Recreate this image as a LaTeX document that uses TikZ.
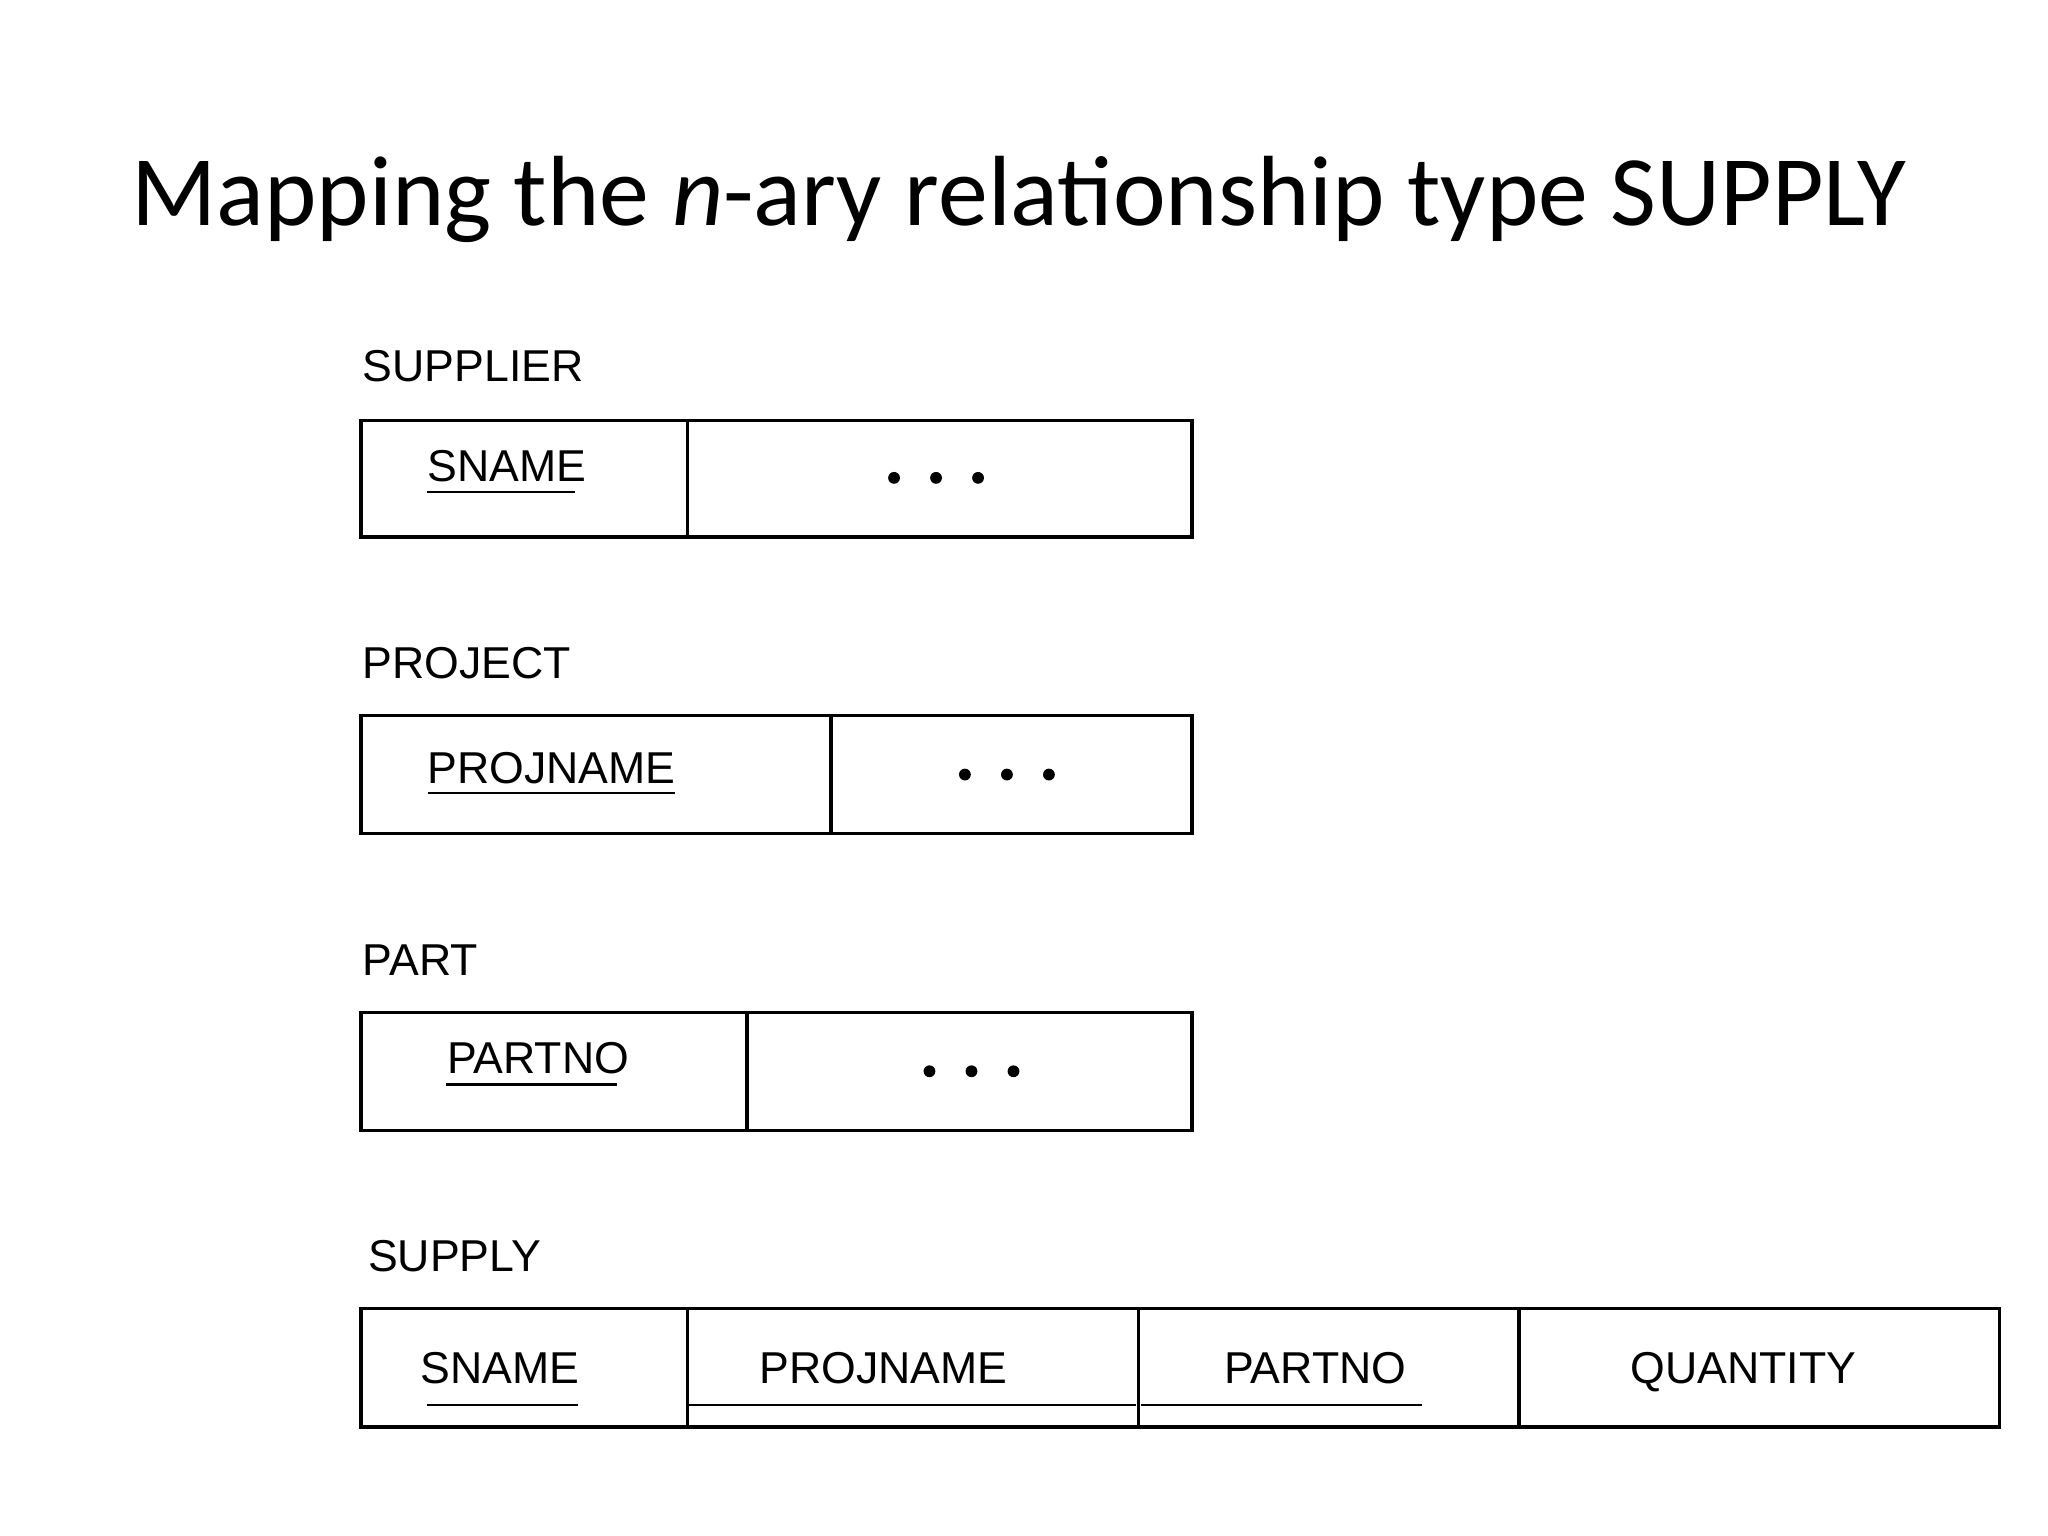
\documentclass[tikz,border=0pt]{standalone}
\usepackage{fontspec}
\setmainfont{Liberation Sans}
\newfontfamily\titlefont{Carlito}
\begin{document}
\begin{tikzpicture}[x=0.5pt,y=-0.5pt,
  box/.style={draw,line width=1.2pt},
  lbl/.style={anchor=west,inner sep=0,font=\fontsize{17}{20}\selectfont},
  fld/.style={inner sep=0,text height=12pt,text depth=0pt,font=\fontsize{17}{20}\selectfont},
  ul/.style={line width=0.9pt},
  dot/.style={fill,circle,inner sep=0,minimum size=4.5pt}]
\useasboundingbox (0,0) rectangle (1560,1170);
\node[font=\titlefont\fontsize{38}{44}\selectfont] (title) at (776,152) {Mapping the \textit{n}-ary relationship type SUPPLY};
% SUPPLIER
\node[lbl] (l1) at (276,279) {SUPPLIER};
\draw[box] (275,320) rectangle (908,409); \draw[box] (524,320) -- (524,409);
\node[fld] (s1) at (386,355) {SNAME};
\draw[ul] (325,375) -- (438,375);
\foreach \x in {681,713,745} \node[dot] at (\x,364) {};
% PROJECT
\node[lbl] (l2) at (276,505) {PROJECT};
\draw[box] (275,545) rectangle (908,635); \draw[box] (633,545) -- (633,635);
\node[fld] (p1) at (420,585) {PROJNAME};
\draw[ul] (326,604) -- (514,604);
\foreach \x in {735,767,799} \node[dot] at (\x,590) {};
% PART
\node[lbl] (l3) at (276,731) {PART};
\draw[box] (275,771) rectangle (908,861); \draw[box] (569,771) -- (569,861);
\node[fld] (q1) at (410,806) {PARTNO};
\draw[ul] (340,826) -- (470,826);
\foreach \x in {708,740,772} \node[dot] at (\x,816) {};
% SUPPLY
\node[lbl] (l4) at (280,957) {SUPPLY};
\draw[box] (275,997) rectangle (1523,1087);
\foreach \x in {524,867,1157} \draw[box] (\x,997) -- (\x,1087);
\node[fld] (a) at (381,1042) {SNAME};
\node[fld] (b) at (673,1042) {PROJNAME};
\node[fld] (c) at (1002,1042) {PARTNO};
\node[fld] (d) at (1328,1042) {QUANTITY};
\draw[ul] (325,1070) -- (440,1070);
\draw[ul] (524,1070) -- (865,1070);
\draw[ul] (869,1070) -- (1083,1070);
\end{tikzpicture}
\end{document}
